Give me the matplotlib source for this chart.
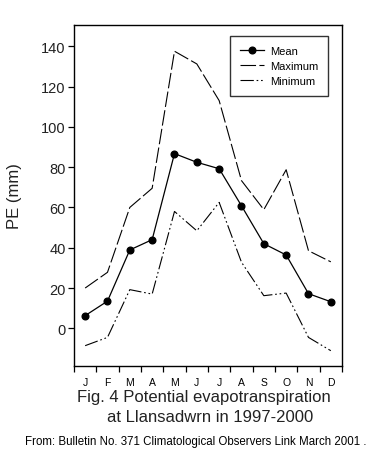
import matplotlib
matplotlib.use("Agg")
import matplotlib.pyplot as plt

plt.rcParams['font.family'] = ['Liberation Sans', 'DejaVu Sans']

months = ['J', 'F', 'M', 'A', 'M', 'J', 'J', 'A', 'S', 'O', 'N', 'D']
mean_pe = [6.3, 13.5, 38.9, 44.0, 86.7, 82.4, 79.2, 60.8, 42.0, 36.4, 17.2, 13.2]
max_pe = [20.0, 27.8, 60.0, 69.5, 137.5, 131.2, 113.0, 73.3, 58.9, 78.7, 38.5, 33.0]
min_pe = [-8.6, -4.5, 19.2, 17.0, 58.0, 48.4, 62.5, 32.8, 16.2, 17.5, -4.5, -11.1]
yticks = [0, 20, 40, 60, 80, 100, 120, 140]

fig = plt.figure(figsize=(3.69, 4.52), dpi=100)
ax = fig.add_axes([0.2005, 0.188, 0.7263, 0.7544])

x = list(range(1, len(months) + 1))
ax.plot(x, mean_pe, color='black', lw=0.9, marker='o', markersize=4.8, label='Mean')
ax.plot(x, max_pe, color='black', lw=0.8, dashes=(14, 3), label='Maximum')
ax.plot(x, min_pe, color='black', lw=0.8, dashes=(12, 2.5, 1.5, 2.5, 1.5, 2.5), label='Minimum')

ax.set_xlim(0.5, 12.5)
ax.set_ylim(-18.7, 150.5)
ax.set_yticks(yticks)
ax.set_yticklabels([str(v) for v in yticks], fontsize=10.5, color='#222222')
ax.set_xticks(x)
ax.set_xticklabels(months, fontsize=7.5)
ax.set_xticks([i + 0.5 for i in range(0, 13)], minor=True)
ax.tick_params(axis='x', which='major', length=0, pad=8)
ax.tick_params(axis='x', which='minor', length=4, width=0.9, direction='out')
ax.tick_params(axis='y', length=4, width=0.9, direction='out', pad=2)
for s in ax.spines.values():
    s.set_linewidth(1.0)

ax.set_ylabel('PE (mm)', fontsize=12, labelpad=14, color='#222222')

leg = ax.legend(loc='upper right', bbox_to_anchor=(328 / 369, 1 - 37 / 452),
                bbox_transform=fig.transFigure, borderaxespad=0, fontsize=8,
                frameon=True, fancybox=False, handlelength=2.2, labelspacing=0.45,
                borderpad=0.9, handletextpad=0.5)
leg.get_frame().set_edgecolor('black')
leg.get_frame().set_linewidth(1.0)

fig.text(203.5 / 369, 1 - 398 / 452, 'Fig. 4 Potential evapotranspiration', ha='center', va='center',
         fontsize=12, color='#222222')
fig.text(210.5 / 369, 1 - 418 / 452, 'at Llansadwrn in 1997-2000', ha='center', va='center',
         fontsize=12, color='#222222')
fig.text(196 / 369, 1 - 442 / 452, 'From: Bulletin No. 371 Climatological Observers Link March 2001 .',
         ha='center', va='center', fontsize=8.3, color='black')

fig.savefig('out.png', dpi=100)
